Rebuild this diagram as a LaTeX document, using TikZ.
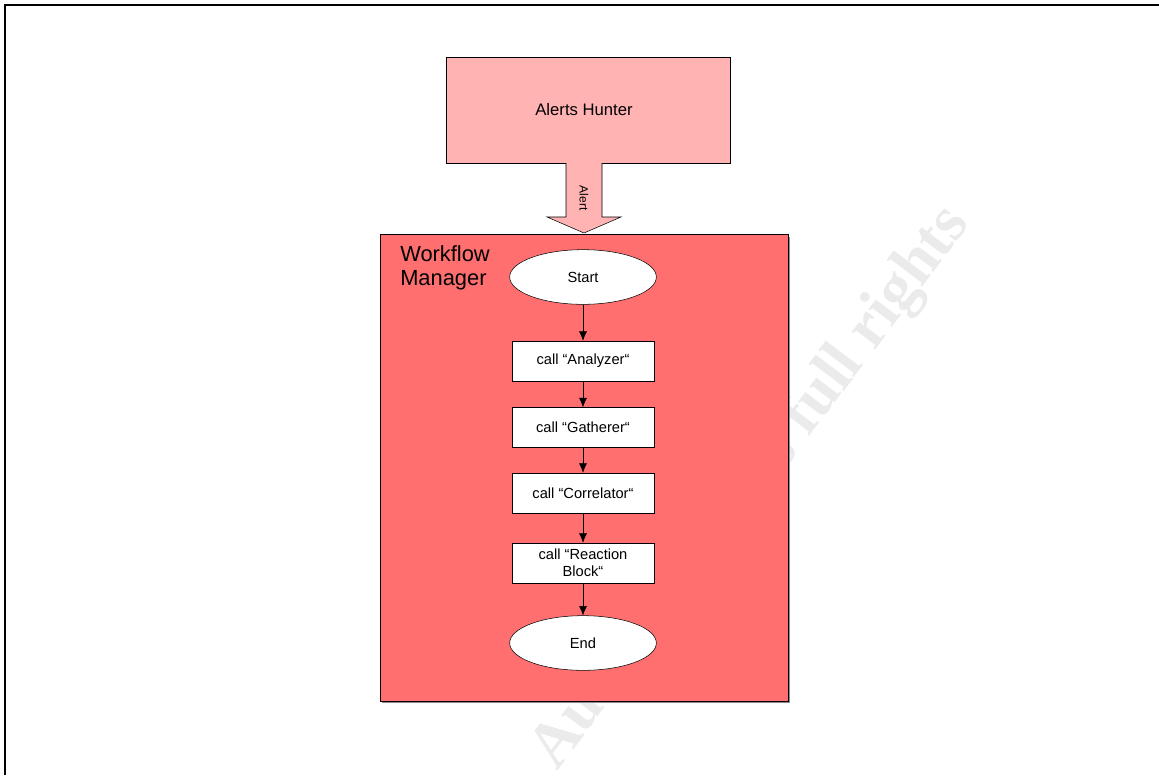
\documentclass[tikz,border=0pt]{standalone}
\usepackage{fontspec}
\setmainfont{Liberation Sans}
\newfontfamily\markfont{Liberation Serif}
\usetikzlibrary{arrows.meta,shapes.geometric}
\definecolor{hunterpink}{RGB}{255,179,179}
\definecolor{managerred}{RGB}{255,111,111}

\begin{document}
\begin{tikzpicture}[
    x=0.75pt, y=-0.75pt,
    callbox/.style={draw, fill=white, rectangle, minimum width=106.5pt, minimum height=30pt, inner sep=1pt, align=center, font=\fontsize{11}{12.5}\selectfont},
    terminal/.style={draw, fill=white, ellipse, minimum width=110pt, minimum height=41pt, inner sep=0pt, font=\fontsize{11}{13}\selectfont},
    flow/.style={-{Latex[length=7pt,width=6pt]}},
    block/.style={draw, rectangle, inner sep=0pt}
    ]
    \useasboundingbox (0,0) rectangle (1159,775);
    % faint watermark
    \node[rotate=53, anchor=base west, inner sep=0pt, text=black!8, font=\markfont\bfseries\fontsize{48}{48}\selectfont] (mark) at (557,772) {Author retains full rights};
    % frame
    \draw[line width=1.5pt] (5,775) -- (5,5) -- (1159,5);
    % source
    \node[block, fill=hunterpink, minimum width=213pt, minimum height=79.5pt, font=\fontsize{12.5}{14}\selectfont] (hunter) at (588,110) {\hspace*{-6pt}Alerts Hunter};
    \fill[hunterpink] (566,160) -- (566,217) -- (547,217) -- (584,233) -- (621,217) -- (602,217) -- (602,160) -- cycle;
    \draw (566,163) -- (566,217) -- (547,217) -- (584,233) -- (621,217) -- (602,217) -- (602,163);
    \node[rotate=-90, inner sep=0pt, font=\fontsize{9}{10}\selectfont] (alert) at (584,198) {Alert};
    % manager
    \fill[black!45] (382,237) rectangle (790,703);
    \node[block, fill=managerred, minimum width=306pt, minimum height=350pt] (manager) at (584,467.5) {};
    \node[anchor=north west, inner sep=0pt, align=left, font=\fontsize{16.4}{18}\selectfont] (managerlabel) at (400,245) {Workflow\\Manager};
    \node[terminal] (start) at (583,277) {Start};
    \node[callbox] (analyzer) at (583,361) {call “Analyzer“};
    \node[callbox] (gatherer) at (583,427.5) {call “Gatherer“};
    \node[callbox] (correlator) at (583,493) {call “Correlator“};
    \node[callbox] (reaction) at (583,563) {call “Reaction\\Block“};
    \node[terminal] (end) at (583,643) {End};
    \draw[flow] (start) -- (analyzer);
    \draw[flow] (analyzer) -- (gatherer);
    \draw[flow] (gatherer) -- (correlator);
    \draw[flow] (correlator) -- (reaction);
    \draw[flow] (reaction) -- (end);
  \end{tikzpicture}
\end{document}
